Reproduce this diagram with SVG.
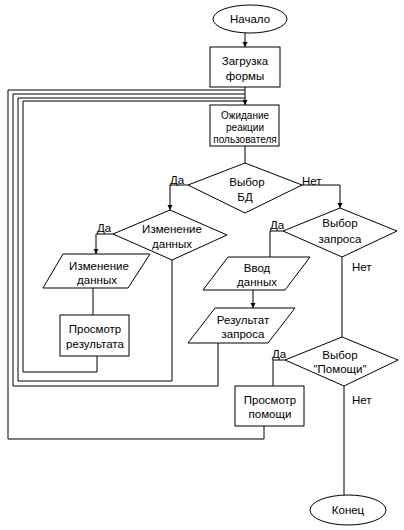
<svg xmlns="http://www.w3.org/2000/svg" width="404" height="530" viewBox="0 0 404 530">
<defs>
<style>
.s{fill:#fff;stroke:#000;stroke-width:1}
.c{fill:none;stroke:#000;stroke-width:1}
text{font-family:"Liberation Sans",Arial,sans-serif;font-size:11.5px;fill:#000;text-anchor:middle}
.sm{font-size:10px}
.l{text-anchor:start}
</style>
<marker id="a" markerWidth="6" markerHeight="6" refX="5" refY="3" orient="auto" markerUnits="userSpaceOnUse"><path d="M0,0.5 L5,3 L0,5.5 Z" fill="#000"/></marker>
</defs>
<rect width="404" height="530" fill="#fff"/>
<g id="connectors">
<path class="c" d="M245,33 V47" marker-end="url(#a)"/>
<path class="c" d="M245,87 V105" marker-end="url(#a)"/>
<path class="c" d="M8,439 V90 H245"/>
<path class="c" d="M13,386 V94 H245"/>
<path class="c" d="M18,381 V98 H245"/>
<path class="c" d="M23,372 V101 H245"/>
<path class="c" d="M245,146 V163"/>
<path class="c" d="M188,185 H170 V210" marker-end="url(#a)"/>
<path class="c" d="M302,185 H340 V208" marker-end="url(#a)"/>
<path class="c" d="M113,234 H96 V254" marker-end="url(#a)"/>
<path class="c" d="M93,288 V315"/>
<path class="c" d="M97,356 V372 H23"/>
<path class="c" d="M172,260 V381 H18"/>
<path class="c" d="M283,231 H270 V257"/>
<path class="c" d="M253,290 V308" marker-end="url(#a)"/>
<path class="c" d="M218,343 V386 H13"/>
<path class="c" d="M342,257 V337"/>
<path class="c" d="M285,360 H273 V386"/>
<path class="c" d="M264,426 V439 H8"/>
<path class="c" d="M344,386 V495"/>
<text class="l" x="170" y="184">Да</text>
<text class="l" x="302" y="185">Нет</text>
<text class="l" x="97" y="232">Да</text>
<text class="l" x="270" y="229">Да</text>
<text class="l" x="352" y="271">Нет</text>
<text class="l" x="272" y="358">Да</text>
<text class="l" x="352" y="404">Нет</text>
</g>
<g id="start">
<ellipse class="s" cx="250" cy="19" rx="37" ry="14"/>
<text x="250" y="23">Начало</text>
</g>
<g id="load">
<rect class="s" x="210" y="47" width="70" height="40"/>
<text x="245" y="65">Загрузка</text>
<text x="245" y="80">формы</text>
</g>
<g id="wait">
<rect class="s" x="210" y="105" width="69" height="41"/>
<text class="sm" x="245" y="119">Ожидание</text>
<text class="sm" x="245" y="131">реакции</text>
<text class="sm" x="245" y="143">пользователя</text>
</g>
<g id="chooseDB">
<polygon class="s" points="245,163 302,185 245,213 188,185"/>
<text x="247" y="186">Выбор</text>
<text x="245" y="201">БД</text>
</g>
<g id="changeDecision">
<polygon class="s" points="170,210 227,235 172,260 113,234"/>
<text x="172" y="233">Изменение</text>
<text x="172" y="248">данных</text>
</g>
<g id="changeData">
<polygon class="s" points="63,254 150,254 128,288 43,288"/>
<text x="99" y="270">Изменение</text>
<text x="97" y="284">данных</text>
</g>
<g id="viewResult">
<rect class="s" x="60" y="315" width="69" height="41"/>
<text x="95" y="333">Просмотр</text>
<text x="95" y="348">результата</text>
</g>
<g id="chooseQuery">
<polygon class="s" points="340,208 397,231 342,257 283,231"/>
<text x="340" y="227">Выбор</text>
<text x="340" y="243">запроса</text>
</g>
<g id="input">
<polygon class="s" points="228,257 310,257 285,290 203,290"/>
<text x="257" y="272">Ввод</text>
<text x="257" y="286">данных</text>
</g>
<g id="queryResult">
<polygon class="s" points="215,308 295,308 268,343 188,343"/>
<text x="243" y="324">Результат</text>
<text x="243" y="338">запроса</text>
</g>
<g id="chooseHelp">
<polygon class="s" points="342,337 398,360 344,386 285,360"/>
<text x="340" y="359">Выбор</text>
<text x="340" y="373">"Помощи"</text>
</g>
<g id="viewHelp">
<rect class="s" x="235" y="386" width="69" height="40"/>
<text x="270" y="404">Просмотр</text>
<text x="270" y="418">помощи</text>
</g>
<g id="end">
<ellipse class="s" cx="348" cy="510" rx="38" ry="15"/>
<text x="348" y="514">Конец</text>
</g>
</svg>
